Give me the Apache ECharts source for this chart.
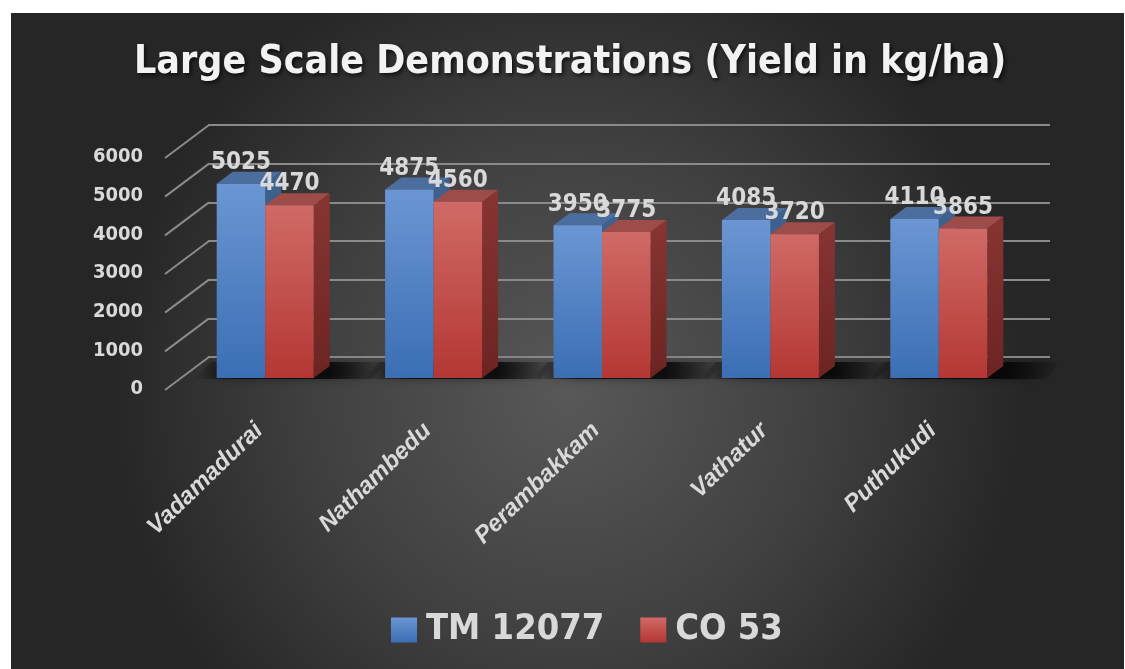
<!DOCTYPE html>
<html>
<head>
<meta charset="utf-8">
<script src="https://cdn.jsdelivr.net/npm/echarts@6/dist/echarts.min.js"></script>
<style>
html,body{margin:0;padding:0;background:#fff;}
#c{width:1125px;height:669px;}
</style>
</head>
<body>
<div id="c"></div>
<script>
// ---- data ----
const categories = ['Vadamadurai', 'Nathambedu', 'Perambakkam', 'Vathatur', 'Puthukudi'];
const tm12077 = [5025, 4875, 3950, 4085, 4110];
const co53 = [4470, 4560, 3775, 3720, 3865];
const seriesNames = ['TM 12077', 'CO 53'];
const yMin = 0, yMax = 6000, yStep = 1000;
const yTicks = [0, 1000, 2000, 3000, 4000, 5000, 6000];

// ---- geometry / style constants ----
const WALL_DX = -43, WALL_DY = 33;   // back wall -> front edge of side wall
const BAR_DX = -27, BAR_DY = 21;     // back wall -> bar front face
const DEP_DX = 16, DEP_DY = -12;     // bar depth
const BAR_FRAC = 0.288;
const NARROW = "'DejaVu Sans Condensed','Liberation Sans Narrow','Liberation Sans',sans-serif";
const LBL = '#d9d9d9';

const G = echarts.graphic;
const palette = [
  { front: ['#6b96d3', '#3b6eb4'], top: '#4c6e9f', side: ['#40628f', '#2f4f7c'] },
  { front: ['#d06a66', '#b43733'], top: '#9e4c49', side: ['#883532', '#6c2422'] }
];

function makeBarRender(sIdx) {
  const side = sIdx === 0 ? -1 : 1;
  const pal = palette[sIdx];
  return function (params, api) {
    const i = api.value(0), v = api.value(1);
    const top = api.coord([i, v]);
    const base = api.coord([i, 0]);
    const band = api.size([1, 0])[0];
    const w = band * BAR_FRAC;
    const cx = top[0] + BAR_DX;
    const x0 = side < 0 ? cx - w : cx;
    const x1 = x0 + w;
    const yt = top[1] + BAR_DY, yb = base[1] + BAR_DY;
    return {
      type: 'group',
      children: [
        { type: 'polygon', shape: { points: [[x1, yt], [x1 + DEP_DX, yt + DEP_DY], [x1 + DEP_DX, yb + DEP_DY], [x1, yb]] },
          style: { fill: new G.LinearGradient(0, 0, 0, 1, [{ offset: 0, color: pal.side[0] }, { offset: 1, color: pal.side[1] }]) } },
        { type: 'polygon', shape: { points: [[x0, yt], [x1, yt], [x1 + DEP_DX, yt + DEP_DY], [x0 + DEP_DX, yt + DEP_DY]] },
          style: { fill: pal.top } },
        { type: 'rect', shape: { x: x0, y: yt, width: w, height: yb - yt },
          style: { fill: new G.LinearGradient(0, 0, 0, 1, [{ offset: 0, color: pal.front[0] }, { offset: 1, color: pal.front[1] }]) } },
        { type: 'text', z2: 10, style: { x: x0 + w / 2, y: yt - 9, text: String(v), align: 'center', verticalAlign: 'bottom',
          fill: LBL, font: 'bold 24px ' + NARROW } }
      ]
    };
  };
}

function shadowRender(params, api) {
  const i = api.value(0);
  const base = api.coord([i, 0]);
  const band = api.size([1, 0])[0];
  const w = band * BAR_FRAC;
  const cx = base[0] + BAR_DX;
  const yb = base[1] + BAR_DY;
  const xl = cx - w - 22, xr = cx + w + DEP_DX + 42;
  return {
    type: 'polygon',
    shape: { points: [[xl, yb + 1], [xr, yb + 1], [xr + DEP_DX, yb + DEP_DY - 4], [xl + DEP_DX, yb + DEP_DY - 4]] },
    style: {
      fill: new G.LinearGradient(0, 0, 1, 0, [
        { offset: 0, color: 'rgba(0,0,0,0)' }, { offset: 0.25, color: 'rgba(0,0,0,0.75)' },
        { offset: 0.7, color: 'rgba(0,0,0,0.75)' }, { offset: 1, color: 'rgba(0,0,0,0)' }]),
      shadowBlur: 10, shadowColor: 'rgba(0,0,0,0.5)'
    }
  };
}

function wallRender(params, api) {
  const v = api.value(1);
  const x = params.coordSys.x;
  const y = api.coord([0, v])[1];
  return { type: 'line', shape: { x1: x + 1, y1: y, x2: x + WALL_DX, y2: y + WALL_DY },
    style: { stroke: '#8a8a8a', lineWidth: 2 } };
}

const chart = echarts.init(document.getElementById('c'), null, { renderer: 'canvas' });
chart.setOption({
  backgroundColor: '#ffffff',
  animation: false,
  graphic: [{
    type: 'rect', z: -10, silent: true,
    shape: { x: 11, y: 13, width: 1113, height: 656 },
    style: { fill: new G.RadialGradient(0.5, 0.58, 0.7, [
      { offset: 0, color: '#585858' }, { offset: 0.55, color: '#404040' }, { offset: 1, color: '#262626' }]) }
  }],
  title: {
    text: 'Large Scale Demonstrations (Yield in kg/ha)',
    left: 129, top: 38,
    textStyle: { color: '#f2f2f2', fontSize: 39, fontWeight: 'bold', fontFamily: NARROW,
      textShadowColor: 'rgba(0,0,0,0.7)', textShadowBlur: 4, textShadowOffsetX: 2, textShadowOffsetY: 2 }
  },
  legend: {
    data: [
      { name: seriesNames[0], itemStyle: { color: new G.LinearGradient(0, 0, 0, 1, [{ offset: 0, color: '#6b96d3' }, { offset: 1, color: '#3b6eb4' }]) } },
      { name: seriesNames[1], itemStyle: { color: new G.LinearGradient(0, 0, 0, 1, [{ offset: 0, color: '#d06a66' }, { offset: 1, color: '#b43733' }]) } }
    ],
    left: 386, top: 602, icon: 'rect', itemWidth: 26, itemHeight: 25, itemGap: 36,
    textStyle: { color: LBL, fontSize: 36, fontWeight: 'bold', fontFamily: NARROW, lineHeight: 46, padding: [0, 0, 0, 4] }
  },
  grid: [
    { left: 208, right: 75, top: 125, bottom: 312 },
    { left: 175, right: 108, top: 157, bottom: 280 }
  ],
  xAxis: [
    { gridIndex: 0, type: 'category', data: categories, show: false },
    { gridIndex: 1, type: 'category', data: categories, axisLine: { show: false }, axisTick: { show: false },
      axisLabel: { interval: 0, rotate: 44, margin: 38, color: LBL, fontSize: 24, fontWeight: 'bold', fontStyle: 'italic',
        fontFamily: "'Liberation Sans',Arial,sans-serif" } }
  ],
  yAxis: [
    { gridIndex: 0, type: 'value', min: yMin, max: yMax, interval: yStep,
      axisLine: { show: false }, axisTick: { show: false }, axisLabel: { show: false },
      splitLine: { lineStyle: { color: '#8a8a8a', width: 2 } } },
    { gridIndex: 1, type: 'value', min: yMin, max: yMax, interval: yStep,
      axisLine: { show: false }, axisTick: { show: false }, splitLine: { show: false },
      axisLabel: { margin: 32, color: LBL, fontSize: 20, fontWeight: 'bold', fontFamily: NARROW,
        formatter: v => String(v) } }
  ],
  series: [
    { type: 'custom', name: 'wall', xAxisIndex: 0, yAxisIndex: 0, z: 1, silent: true,
      data: yTicks.map(t => [0, t]), renderItem: wallRender },
    { type: 'custom', name: 'shadow', xAxisIndex: 0, yAxisIndex: 0, z: 1, silent: true,
      data: categories.map((c, i) => [i, 0]), renderItem: shadowRender },
    { type: 'custom', name: seriesNames[0], xAxisIndex: 0, yAxisIndex: 0, z: 2,
      itemStyle: { color: '#4f81bd' },
      data: tm12077.map((v, i) => [i, v]), renderItem: makeBarRender(0) },
    { type: 'custom', name: seriesNames[1], xAxisIndex: 0, yAxisIndex: 0, z: 3,
      itemStyle: { color: '#c0504d' },
      data: co53.map((v, i) => [i, v]), renderItem: makeBarRender(1) }
  ]
});
</script>
</body>
</html>
